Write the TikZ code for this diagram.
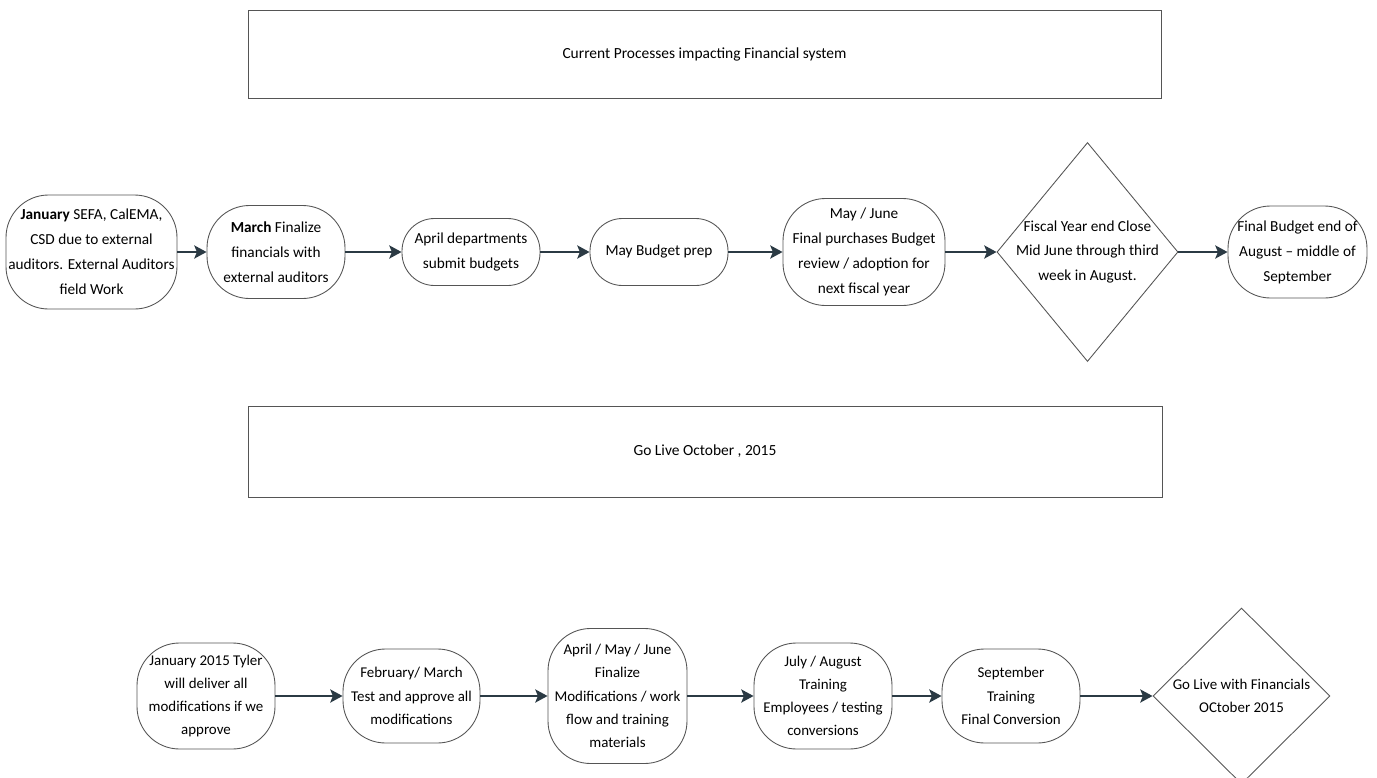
\documentclass[tikz,border=0pt]{standalone}
\usepackage{fontspec}
\setmainfont{Carlito}
\usetikzlibrary{shapes.geometric,arrows.meta}
\definecolor{linegray}{HTML}{555555}
\definecolor{arrowdark}{HTML}{2B3A44}
\tikzset{
  dims/.style 2 args={minimum width=#1*0.02cm, minimum height=#2*0.02cm},
  phase/.style={draw=linegray, line width=0.5pt, rounded corners=0.65cm, align=center, inner sep=0pt, font=\fontsize{8.7}{14.2}\selectfont},
  task/.style={phase, font=\fontsize{8.5}{13.2}\selectfont},
  roundish/.style={rounded corners=0.85cm},
  decision/.style={draw=linegray, line width=0.5pt, diamond, inner sep=0pt},
  banner/.style={draw=linegray, line width=0.5pt, inner sep=0pt, font=\fontsize{8.8}{10}\selectfont},
  flow/.style={draw=arrowdark, line width=1.1pt, -{Stealth[length=7pt,width=7.5pt,inset=1.5pt]}},
}
\begin{document}
\begin{tikzpicture}[x=0.02cm, y=-0.02cm]
  \useasboundingbox (0,0) rectangle (1377,778);

  % Headings
  \node[banner, dims={913}{88}] (current) at (704.5,54) {Current Processes impacting Financial system};
  \node[banner, dims={914}{91}] (golivehead) at (705,451.5) {Go Live October , 2015};

  % Current processes
  \node[phase, roundish, dims={171}{114}] (jan) at (91.5,252) {\textbf{January} SEFA, CalEMA,\\CSD due to external\\auditors. External Auditors\\field Work};
  \node[phase, roundish, dims={138}{93}] (mar) at (276,252) {\textbf{March} Finalize\\financials with\\external auditors};
  \node[phase, dims={138}{67}] (apr) at (471,252) {April departments\\submit budgets};
  \node[phase, dims={138}{67}] (may) at (659,252) {May Budget prep};
  \node[phase, roundish, dims={162}{107}] (mayjun) at (864,252) {May / June\\Final purchases Budget\\review / adoption for\\next fiscal year};
  \node[decision, dims={181}{219}] (fiscal) at (1087.5,252) {};
  \node[align=center, font=\fontsize{8.7}{14.2}\selectfont] (fiscaltext) at (fiscal) {Fiscal Year end Close\\Mid June through third\\week in August.};
  \node[phase, roundish, dims={139}{92}] (final) at (1297.5,252) {Final Budget end of\\August -- middle of\\September};

  % Go live plan
  \node[task, roundish, dims={138}{106}] (jan15) at (206,696) {January 2015 Tyler\\will deliver all\\modifications if we\\approve};
  \node[task, roundish, dims={137}{94}] (febmar) at (411.5,696) {February/ March\\Test and approve all\\modifications};
  \node[task, roundish, dims={139}{135}] (aprjun) at (617.5,696) {April / May / June\\Finalize\\Modifications / work\\flow and training\\materials};
  \node[task, roundish, dims={138}{106}] (julaug) at (823,696) {July / August\\Training\\Employees / testing\\conversions};
  \node[task, roundish, dims={138}{94}] (sep) at (1011,696) {September\\Training\\Final Conversion};
  \node[decision, dims={177}{176}] (golive) at (1241.5,696) {};
  \node[align=center, font=\fontsize{8.5}{13.2}\selectfont] (golivetext) at (golive) {Go Live with Financials\\OCtober 2015};

  % Arrows
  \foreach \source/\target in {jan/mar, mar/apr, apr/may, may/mayjun, mayjun/fiscal, fiscal/final}
    \draw[flow] (\source) -- (\target);
  \foreach \source/\target in {jan15/febmar, febmar/aprjun, aprjun/julaug, julaug/sep, sep/golive}
    \draw[flow] (\source) -- (\target);
\end{tikzpicture}
\end{document}
